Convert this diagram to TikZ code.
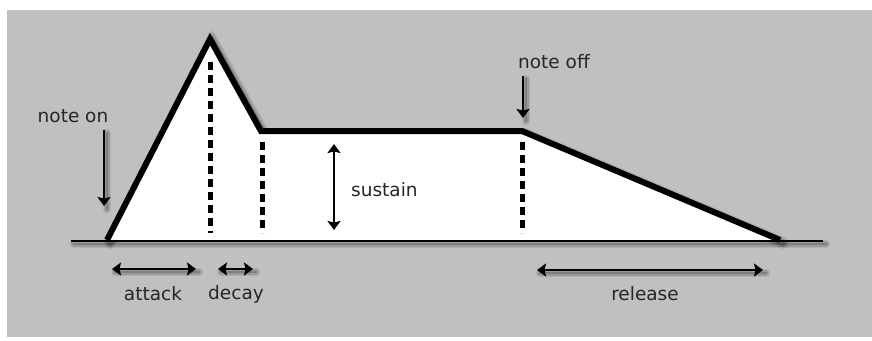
\documentclass[tikz,border=0pt]{standalone}
\usepackage{fontspec}
\setmainfont{DejaVu Sans}
\usetikzlibrary{arrows.meta}
\definecolor{panel}{HTML}{C0C0C0}
\definecolor{ink}{HTML}{262626}
% soft offset shadow under a stroked path: #1 = base width (pt), #2 = path
\newcommand\castshadow[2][2]{%
  \foreach \extra/\op in {6/0.08, 3/0.12, 0/0.18}{%
    \pgfmathsetmacro\sw{#1+\extra}%
    \draw[black, opacity=\op, line width=\sw pt, line cap=round,
          transform canvas={shift={(3pt,-3pt)}}] #2;}}
\begin{document}
\begin{tikzpicture}[x=1pt, y=-1pt,
  label/.style={font=\fontsize{18.5}{20}\selectfont, text=ink, inner sep=0pt},
  envelope/.style={line width=6pt, line join=miter},
  baseline/.style={line width=2.8pt},
  marker/.style={line width=5pt, dash pattern=on 8pt off 5pt},
  tip/.style={},
  span/.style={line width=2.5pt, {Stealth[length=9pt,width=13pt,inset=1.5pt]}-{Stealth[length=9pt,width=13pt,inset=1.5pt]}},
  cue/.style={line width=2.5pt, -{Stealth[length=9pt,width=13pt,inset=1.5pt]}}]
  \useasboundingbox (0,0) rectangle (872,340);
  \fill[white] (0,0) rectangle (872,340);
  \fill[panel] (7,10) rectangle (872,337);

  % envelope corners
  \coordinate (start) at (107,240);
  \coordinate (peak) at (210,39);
  \coordinate (sus) at (261,131);
  \coordinate (off) at (522,131);
  \coordinate (end) at (780,240);
  % ends of the base line
  \coordinate (bl) at (71,241);
  \coordinate (br) at (823,241);

  % shadows
  \castshadow[2.8]{(bl) -- (br)}
  \castshadow[6]{(start) -- (peak) -- (sus) -- (off) -- (end)}

  % envelope area
  \fill[white] (start) -- (peak) -- (sus) -- (off) -- (end) -- cycle;
  \draw[baseline] (bl) -- (br);
  \draw[envelope] (start) -- (peak) -- (sus) -- (off) -- (end);

  % stage markers
  \coordinate (m1t) at (210,62);  \coordinate (m1b) at (210,233);
  \coordinate (m2t) at (262,142); \coordinate (m2b) at (262,233);
  \coordinate (m3t) at (522,142); \coordinate (m3b) at (522,233);
  \draw[marker] (m1t) -- (m1b);
  \draw[marker] (m2t) -- (m2b);
  \draw[marker] (m3t) -- (m3b);

  % note on / note off
  \node[label] (non) at (73,116) {note on};
  \coordinate (nonA) at (104,130); \coordinate (nonB) at (104,206);
  \castshadow[2.5]{(nonA) -- (nonB)}
  \draw[cue] (nonA) -- (nonB);

  \node[label] (noff) at (554,62) {note off};
  \coordinate (noffA) at (523,76); \coordinate (noffB) at (523,118);
  \castshadow[2.5]{(noffA) -- (noffB)}
  \draw[cue] (noffA) -- (noffB);

  % sustain level
  \coordinate (sA) at (334,144); \coordinate (sB) at (334,230);
  \draw[span] (sA) -- (sB);
  \node[label, anchor=west] (sustain) at (351,190) {sustain};

  % time spans
  \coordinate (aA) at (112,269); \coordinate (aB) at (196,269);
  \coordinate (dA) at (218,269); \coordinate (dB) at (253,269);
  \coordinate (rA) at (537,270); \coordinate (rB) at (763,270);
  \castshadow[2.5]{(aA) -- (aB)}
  \castshadow[2.5]{(dA) -- (dB)}
  \castshadow[2.5]{(rA) -- (rB)}
  \draw[span] (aA) -- (aB);
  \draw[span] (dA) -- (dB);
  \draw[span] (rA) -- (rB);
  \node[label] (attack) at (153,294) {attack};
  \node[label] (decay) at (236,294) {decay};
  \node[label] (release) at (645,294) {release};
\end{tikzpicture}
\end{document}
